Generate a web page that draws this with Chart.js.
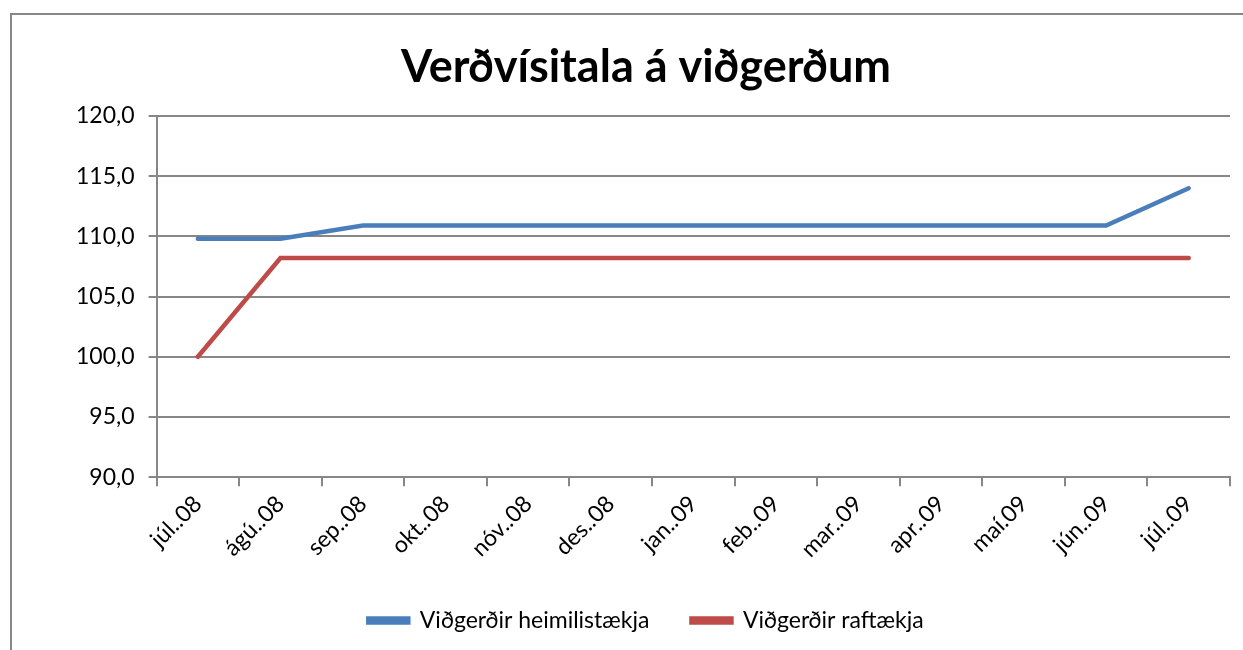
<!DOCTYPE html>
<html>
<head>
<meta charset="utf-8">
<script src="https://cdn.jsdelivr.net/npm/chart.js@4"></script>
<style>
  html, body { margin: 0; padding: 0; background: #fff; }
  #wrap { width: 1243px; height: 650px; position: relative; }
</style>
</head>
<body>
<div id="wrap"><canvas id="myChart"></canvas></div>
<script>
const labels = ['júl..08', 'ágú..08', 'sep..08', 'okt..08', 'nóv..08', 'des..08', 'jan..09',
                'feb..09', 'mar..09', 'apr..09', 'maí.09', 'jún..09', 'júl..09'];
const heimilistaekja = [109.8, 109.8, 110.9, 110.9, 110.9, 110.9, 110.9, 110.9, 110.9, 110.9, 110.9, 110.9, 114.0];
const raftaekja = [100.0, 108.2, 108.2, 108.2, 108.2, 108.2, 108.2, 108.2, 108.2, 108.2, 108.2, 108.2, 108.2];

const fontName = 'Lato, "Open Sans", sans-serif';

// grey frame around the chart, like the spreadsheet chart border
const framePlugin = {
    id: 'frame',
    beforeDraw(chart) {
        const c = chart.ctx;
        c.save();
        c.fillStyle = '#fff';
        c.fillRect(0, 0, chart.width, chart.height);
        c.strokeStyle = '#878787';
        c.lineWidth = 2;
        c.strokeRect(11, 14, chart.width + 20, chart.height + 20);
        c.restore();
    }
};

document.addEventListener('DOMContentLoaded', function() {
    const ctx = document.getElementById('myChart');
    new Chart(ctx, {
        type: 'line',
        data: {
            labels: labels,
            datasets: [{
                label: 'Viðgerðir heimilistækja',
                data: heimilistaekja,
                borderColor: '#4A7EBB',
                backgroundColor: '#4A7EBB',
                borderWidth: 4.5,
                pointRadius: 0,
                tension: 0,
                borderCapStyle: 'round'
            }, {
                label: 'Viðgerðir raftækja',
                data: raftaekja,
                borderColor: '#BE4B48',
                backgroundColor: '#BE4B48',
                borderWidth: 4.5,
                pointRadius: 0,
                tension: 0,
                borderCapStyle: 'round'
            }]
        },
        options: {
            responsive: true,
            maintainAspectRatio: false,
            animation: false,
            layout: { padding: { left: 62, right: 13, top: 22, bottom: 8 } },
            plugins: {
                title: {
                    display: true,
                    text: 'Verðvísitala á viðgerðum',
                    color: '#000',
                    font: { family: fontName, size: 45, weight: 'bold' },
                    padding: { top: 18, bottom: 22 }
                },
                legend: {
                    display: true,
                    position: 'bottom',
                    labels: {
                        color: '#000',
                        font: { family: fontName, size: 23 },
                        boxWidth: 40,
                        boxHeight: 4,
                        padding: 42
                    }
                },
                tooltip: { enabled: false }
            },
            scales: {
                x: {
                    offset: true,
                    grid: {
                        offset: true,
                        drawOnChartArea: false,
                        drawTicks: true,
                        tickLength: 9,
                        color: '#878787',
                        lineWidth: 2
                    },
                    border: { color: '#878787', width: 2 },
                    ticks: {
                        color: '#000',
                        font: { family: fontName, size: 23 },
                        maxRotation: 45,
                        minRotation: 45,
                        autoSkip: false,
                        padding: 4
                    }
                },
                y: {
                    min: 90,
                    max: 120,
                    grid: {
                        color: '#878787',
                        lineWidth: 2,
                        tickLength: 8
                    },
                    border: { color: '#878787', width: 2 },
                    ticks: {
                        stepSize: 5,
                        color: '#000',
                        font: { family: fontName, size: 23 },
                        padding: 14,
                        callback: function(v) { return v.toFixed(1).replace('.', ','); }
                    }
                }
            }
        },
        plugins: [framePlugin]
    });
});
</script>
</body>
</html>
